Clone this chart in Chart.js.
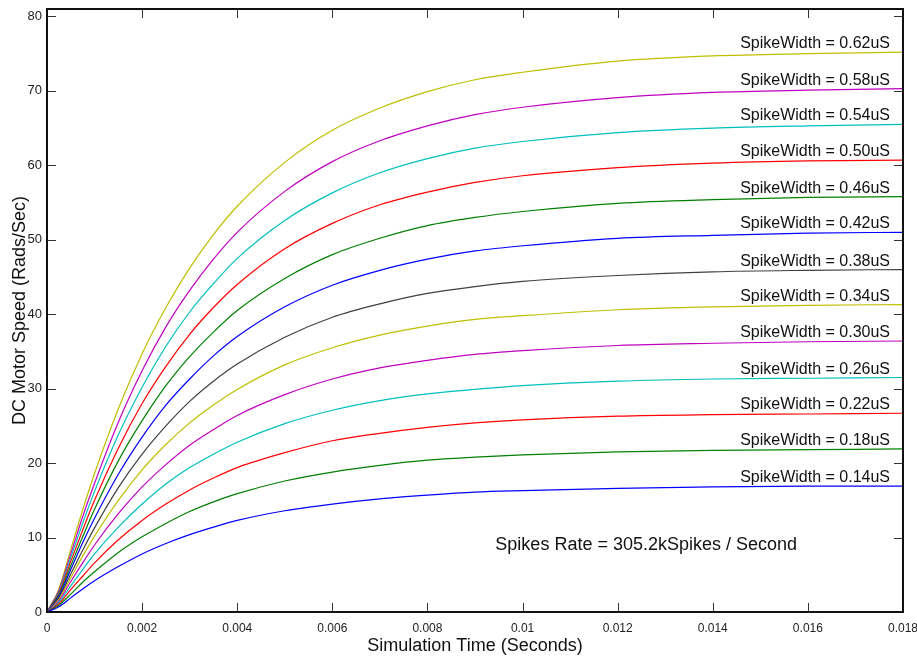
<!DOCTYPE html>
<html>
<head>
<meta charset="utf-8">
<script src="https://cdn.jsdelivr.net/npm/chart.js@4.4.1/dist/chart.umd.min.js"></script>
<style>
  html, body { margin: 0; padding: 0; background: #fff; }
</style>
</head>
<body>
<canvas id="speed" width="917" height="657"></canvas>
<script>
// time samples (seconds)
const timeSec = [0, 0.00025, 0.0005, 0.00075, 0.001, 0.0015, 0.002, 0.0025, 0.003, 0.0035, 0.004,
                 0.005, 0.006, 0.007, 0.008, 0.009, 0.010, 0.012, 0.014, 0.016, 0.018];

// motor speed (rads/sec) per spike width
const sw014 = [0, 0.7, 1.9, 3.1, 4.2, 6.1, 7.8, 9.2, 10.4, 11.4, 12.3, 13.6, 14.5, 15.2, 15.7, 16.1, 16.3, 16.6, 16.8, 16.9, 16.9];
const sw018 = [0, 0.9, 2.4, 4.0, 5.4, 8.0, 10.1, 11.9, 13.5, 14.8, 15.9, 17.6, 18.8, 19.7, 20.4, 20.8, 21.1, 21.5, 21.7, 21.8, 21.9];
const sw022 = [0, 1.1, 3.0, 4.8, 6.6, 9.7, 12.3, 14.5, 16.4, 18.0, 19.4, 21.4, 23.0, 24.0, 24.8, 25.4, 25.8, 26.3, 26.5, 26.6, 26.7];
const sw026 = [0, 1.3, 3.5, 5.7, 7.8, 11.4, 14.5, 17.2, 19.4, 21.2, 22.8, 25.3, 27.1, 28.4, 29.3, 29.9, 30.4, 31.0, 31.3, 31.4, 31.5];
const sw030 = [0, 1.5, 4.1, 6.6, 9.0, 13.2, 16.8, 19.8, 22.4, 24.5, 26.4, 29.2, 31.3, 32.8, 33.8, 34.6, 35.1, 35.8, 36.1, 36.3, 36.4];
const sw034 = [0, 1.7, 4.6, 7.5, 10.2, 15.0, 19.1, 22.5, 25.4, 27.8, 29.9, 33.2, 35.5, 37.2, 38.4, 39.3, 39.8, 40.6, 41.0, 41.2, 41.3];
const sw038 = [0, 1.9, 5.1, 8.3, 11.3, 16.7, 21.2, 25.0, 28.3, 31.0, 33.3, 36.9, 39.6, 41.4, 42.8, 43.7, 44.4, 45.2, 45.7, 45.9, 46.0];
const sw042 = [0, 2.1, 5.7, 9.3, 12.6, 18.5, 23.5, 27.8, 31.3, 34.4, 37.0, 41.0, 43.9, 45.9, 47.4, 48.5, 49.2, 50.2, 50.6, 50.9, 51.0];
const sw046 = [0, 2.3, 6.2, 10.1, 13.8, 20.3, 25.7, 30.4, 34.3, 37.6, 40.5, 44.8, 48.0, 50.2, 51.9, 53.0, 53.8, 54.9, 55.4, 55.7, 55.8];
const sw050 = [0, 2.5, 6.8, 11.0, 15.0, 22.0, 28.0, 33.0, 37.3, 40.9, 44.0, 48.8, 52.2, 54.7, 56.4, 57.7, 58.6, 59.7, 60.3, 60.6, 60.7];
const sw054 = [0, 2.7, 7.3, 11.9, 16.2, 23.8, 30.2, 35.7, 40.3, 44.1, 47.5, 52.6, 56.3, 59.0, 60.9, 62.3, 63.2, 64.4, 65.0, 65.3, 65.5];
const sw058 = [0, 2.9, 7.8, 12.8, 17.3, 25.5, 32.4, 38.3, 43.2, 47.4, 51.0, 56.5, 60.5, 63.3, 65.3, 66.8, 67.8, 69.1, 69.8, 70.1, 70.3];
const sw062 = [0, 3.1, 8.4, 13.7, 18.6, 27.3, 34.7, 40.9, 46.2, 50.7, 54.5, 60.4, 64.7, 67.7, 69.9, 71.5, 72.5, 74.0, 74.7, 75.0, 75.2];

const spikeWidths = ["0.14", "0.18", "0.22", "0.26", "0.30", "0.34", "0.38", "0.42", "0.46", "0.50", "0.54", "0.58", "0.62"];
const speedSeries = [sw014, sw018, sw022, sw026, sw030, sw034, sw038, sw042, sw046, sw050, sw054, sw058, sw062];
const lineColors = ["#0000ff", "#008000", "#ff0000", "#00bfbf", "#bf00bf", "#bfbf00", "#404040",
                    "#0000ff", "#008000", "#ff0000", "#00bfbf", "#bf00bf", "#bfbf00"];

// axis ticks
const xTicks = [0, 0.002, 0.004, 0.006, 0.008, 0.01, 0.012, 0.014, 0.016, 0.018];
const yTicks = [0, 10, 20, 30, 40, 50, 60, 70, 80];

const note = { text: "Spikes Rate = 305.2kSpikes / Second", x: 0.0126, y: 9.0 };

const FONT = "'Liberation Sans', Arial, sans-serif";

// matlab style frame, inward ticks and curve labels
const matlabFrame = {
  id: "matlabFrame",
  afterDatasetsDraw(chart) {
    const { ctx, chartArea: a, scales: { x, y } } = chart;
    ctx.save();

    ctx.strokeStyle = "#333";
    ctx.lineWidth = 1;
    ctx.beginPath();
    xTicks.forEach((v) => {
      const px = Math.round(x.getPixelForValue(v)) + 0.5;
      ctx.moveTo(px, a.bottom);
      ctx.lineTo(px, a.bottom - 9);
      ctx.moveTo(px, a.top);
      ctx.lineTo(px, a.top + 9);
    });
    yTicks.forEach((v) => {
      const py = Math.round(y.getPixelForValue(v)) + 0.5;
      ctx.moveTo(a.left, py);
      ctx.lineTo(a.left + 9, py);
      ctx.moveTo(a.right, py);
      ctx.lineTo(a.right - 9, py);
    });
    ctx.stroke();

    ctx.strokeStyle = "#111";
    ctx.lineWidth = 2;
    ctx.strokeRect(a.left, a.top, a.right - a.left, a.bottom - a.top);

    ctx.font = "16px " + FONT;
    ctx.fillStyle = "#111";
    ctx.textAlign = "right";
    ctx.textBaseline = "alphabetic";
    chart.data.datasets.forEach((ds) => {
      const last = ds.data[ds.data.length - 1];
      ctx.fillText(ds.label, a.right - 13, y.getPixelForValue(last.y) - 4);
    });

    ctx.font = "18px " + FONT;
    ctx.textAlign = "center";
    ctx.textBaseline = "middle";
    ctx.fillText(note.text, x.getPixelForValue(note.x), y.getPixelForValue(note.y));
    ctx.restore();
  },
};

const datasets = speedSeries.map((vals, i) => ({
  label: "SpikeWidth = " + spikeWidths[i] + "uS",
  data: timeSec.map((t, k) => ({ x: t, y: vals[k] })),
  borderColor: lineColors[i],
  borderWidth: 1.2,
  pointRadius: 0,
  fill: false,
  cubicInterpolationMode: "monotone",
}));

new Chart(document.getElementById("speed"), {
  type: "line",
  data: { datasets: datasets },
  options: {
    responsive: false,
    animation: false,
    layout: { padding: { top: 9, right: 14, left: 0, bottom: 0 } },
    plugins: { legend: { display: false }, tooltip: { enabled: false } },
    scales: {
      x: {
        type: "linear",
        min: 0,
        max: 0.018,
        grid: { display: false, drawTicks: false },
        border: { display: false },
        afterBuildTicks: (s) => { s.ticks = xTicks.map((v) => ({ value: v })); },
        afterFit: (s) => { s.height = 45; s.paddingLeft = 0; s.paddingRight = 0; },
        ticks: {
          autoSkip: false,
          maxRotation: 0,
          padding: 9,
          color: "#222",
          font: { family: FONT, size: 12 },
          callback: (v) => String(Number(v.toFixed(3))),
        },
        title: {
          display: true,
          text: "Simulation Time (Seconds)",
          color: "#111",
          font: { family: FONT, size: 18 },
          padding: { top: 0, bottom: 0 },
        },
      },
      y: {
        min: 0,
        max: 81,
        grid: { display: false, drawTicks: false },
        border: { display: false },
        afterBuildTicks: (s) => { s.ticks = yTicks.map((v) => ({ value: v })); },
        afterFit: (s) => { s.width = 47; s.paddingTop = 0; s.paddingBottom = 0; },
        ticks: {
          padding: 5,
          color: "#222",
          font: { family: FONT, size: 13 },
        },
        title: {
          display: true,
          text: "DC Motor Speed (Rads/Sec)",
          color: "#111",
          font: { family: FONT, size: 18 },
          padding: { top: 9, bottom: 0 },
        },
      },
    },
  },
  plugins: [matlabFrame],
});
</script>
</body>
</html>
